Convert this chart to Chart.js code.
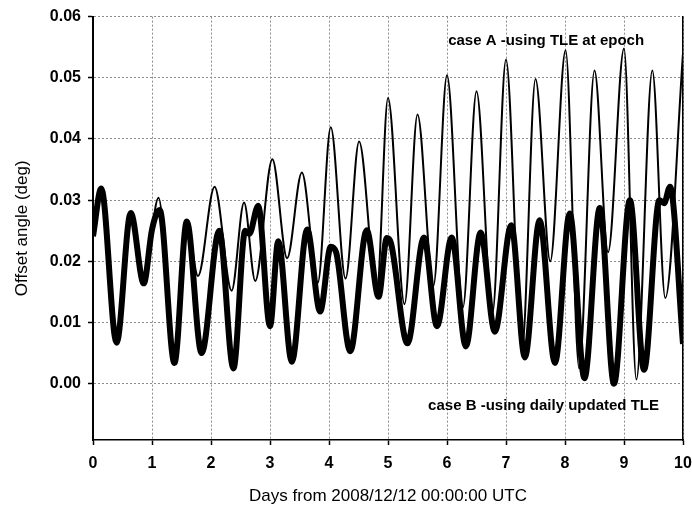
<!DOCTYPE html>
<html>
<head>
<meta charset="utf-8">
<script src="https://cdn.jsdelivr.net/npm/chart.js@4/dist/chart.umd.min.js"></script>
<style>
  html, body { margin: 0; padding: 0; background: #fff; }
  #wrap { width: 692px; height: 512px; }
</style>
</head>
<body>
<div id="wrap"><canvas id="offsetChart"></canvas></div>
<script>
// case A - using TLE at epoch (thin line), peaks and troughs
const daysA = [0.00,0.14,0.40,0.64,0.86,1.11,1.38,1.59,1.78,2.06,2.35,2.56,2.75,3.04,3.29,3.54,3.81,4.03,4.28,4.51,4.81,5.00,5.28,5.50,5.77,6.00,6.27,6.50,6.77,7.00,7.27,7.50,7.75,8.01,8.24,8.50,8.73,9.00,9.21,9.48,9.70,10.00];
const offsetA = [0.0241,0.0319,0.0067,0.0279,0.0164,0.0304,0.0034,0.0265,0.0176,0.0322,0.0152,0.0296,0.0168,0.0367,0.0205,0.0345,0.0165,0.0419,0.0172,0.0396,0.0152,0.0467,0.0130,0.0440,0.0160,0.0504,0.0125,0.0478,0.0115,0.0530,0.0055,0.0498,0.0200,0.0545,0.0025,0.0512,0.0215,0.0548,0.0007,0.0512,0.0140,0.0540];

// case B - using daily updated TLE (thick line)
const daysB = [0.00,0.14,0.40,0.64,0.86,1.00,1.13,1.38,1.59,1.84,2.14,2.38,2.58,2.65,2.80,3.00,3.14,3.37,3.63,3.85,4.03,4.12,4.36,4.64,4.84,4.98,5.05,5.33,5.61,5.83,6.08,6.32,6.57,6.81,7.09,7.32,7.57,7.83,8.08,8.33,8.59,8.83,9.10,9.34,9.60,9.68,9.78,10.00];
const offsetB = [0.0241,0.0319,0.0067,0.0279,0.0164,0.0252,0.0284,0.0034,0.0265,0.0050,0.0250,0.0025,0.0250,0.0245,0.0291,0.0094,0.0233,0.0036,0.0252,0.0118,0.0224,0.0215,0.0053,0.0251,0.0142,0.0238,0.0230,0.0066,0.0239,0.0094,0.0239,0.0061,0.0247,0.0085,0.0259,0.0043,0.0267,0.0034,0.0278,0.0009,0.0287,0.0000,0.0300,0.0023,0.0300,0.0295,0.0322,0.0065];

const yTicks = [0, 0.01, 0.02, 0.03, 0.04, 0.05, 0.06];
const labelA = "case A -using TLE at epoch";
const labelB = "case B -using daily updated TLE";

const FONT = "'Liberation Sans', Arial, sans-serif";

function pts(xs, ys) {
  return xs.map((x, i) => ({x: x, y: ys[i]}));
}

// text notes inside the plot
const notes = {
  id: 'notes',
  afterDatasetsDraw(chart) {
    const {ctx, scales} = chart;
    ctx.save();
    ctx.fillStyle = '#000';
    ctx.font = "bold 15px " + FONT;
    ctx.textBaseline = 'middle';
    ctx.textAlign = 'left';
    ctx.fillText(labelA, scales.x.getPixelForValue(6.02), scales.y.getPixelForValue(0.056));
    ctx.fillText(labelB, scales.x.getPixelForValue(5.68), scales.y.getPixelForValue(-0.0036));
    ctx.restore();
  }
};

const gridStyle = { color: '#8c8c8c', lineWidth: 1, tickColor: '#000', tickLength: 5, tickWidth: 1.5, tickBorderDash: [] };

new Chart("offsetChart", {
  type: "line",
  data: {
    datasets: [{
      data: pts(daysB, offsetB),
      borderColor: "#000",
      borderWidth: 6,
      pointRadius: 0,
      cubicInterpolationMode: 'monotone',
      fill: false
    }, {
      data: pts(daysA, offsetA),
      borderColor: "#000",
      borderWidth: 2,
      pointRadius: 0,
      cubicInterpolationMode: 'monotone',
      fill: false
    }]
  },
  options: {
    responsive: true,
    maintainAspectRatio: false,
    animation: false,
    layout: { padding: { top: 16, right: 0, bottom: 0, left: 0 } },
    plugins: { legend: { display: false }, tooltip: { enabled: false } },
    scales: {
      x: {
        type: 'linear', min: 0, max: 10,
        ticks: { stepSize: 1, color: '#000', padding: 9, font: { family: FONT, size: 16, weight: 'bold' } },
        grid: gridStyle,
        border: { color: '#000', width: 1.5, dash: [2, 2] },
        title: { display: true, text: "Days from 2008/12/12 00:00:00 UTC", color: '#000',
                 font: { family: FONT, size: 17 }, padding: { top: 0, bottom: 5 } },
        afterFit(scale) { scale.height = 72; scale.paddingRight = 9; }
      },
      y: {
        min: -0.0092, max: 0.06,
        afterBuildTicks(scale) { scale.ticks = yTicks.map(v => ({value: v})); },
        ticks: { color: '#000', padding: 7, font: { family: FONT, size: 16, weight: 'bold' },
                 callback: v => v.toFixed(2) },
        grid: gridStyle,
        border: { color: '#000', width: 2, dash: [2, 2] },
        title: { display: true, text: "Offset angle (deg)", color: '#000',
                 font: { family: FONT, size: 17 }, padding: { top: 12, bottom: 0 } },
        afterFit(scale) { scale.width = 93; }
      },
      y2: {
        position: 'right', min: -0.0092, max: 0.06,
        ticks: { display: false },
        grid: { display: false },
        border: { display: true, color: '#000', width: 1.5 },
        afterFit(scale) { scale.width = 9; }
      }
    }
  },
  plugins: [notes]
});
</script>
</body>
</html>
